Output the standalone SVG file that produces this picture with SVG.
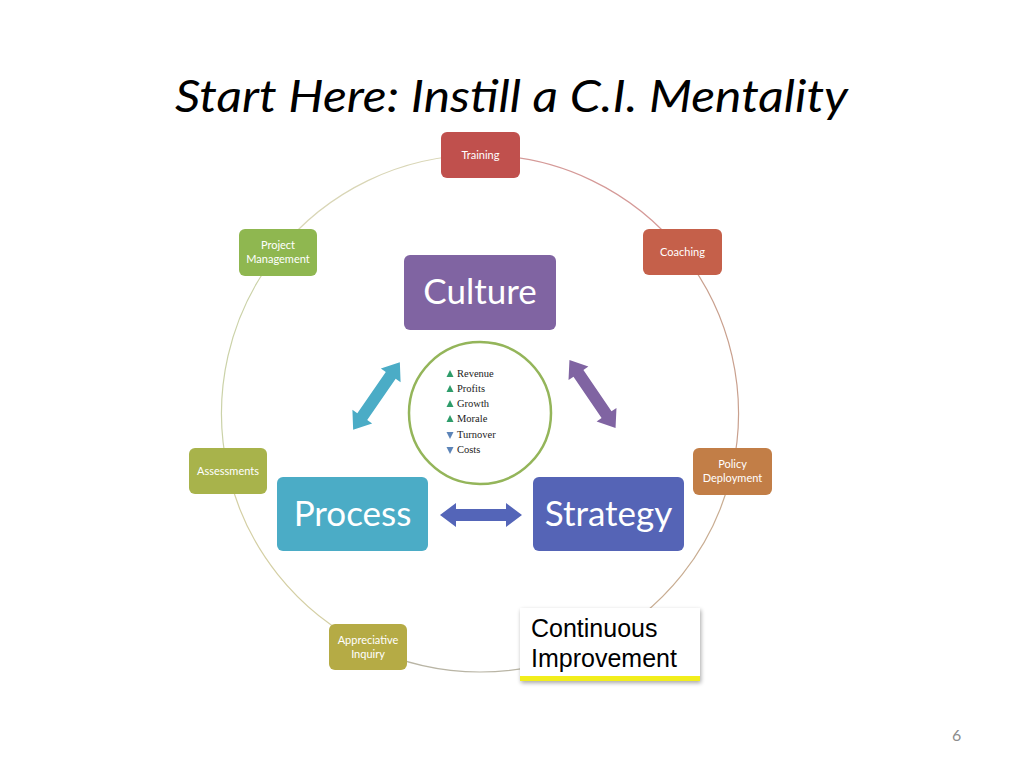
<svg xmlns="http://www.w3.org/2000/svg" width="1024" height="768" viewBox="0 0 1024 768">
<defs>
<style>
.box{stroke:none}
.nt{font-family:Lato,"Open Sans",sans-serif;font-size:11px;fill:#fff;text-anchor:middle}
.big{font-family:Lato,"Open Sans",sans-serif;font-size:35px;fill:#fff;text-anchor:middle}
.lst{font-family:"Liberation Serif",serif;font-size:10.5px;fill:#222}
.arc{fill:none;stroke-width:1.2}
.ci{font-family:"Liberation Sans",Arial,sans-serif;font-size:25px;fill:#000}
</style>
<polygon id="dbl" points="-41,0 -25,-12 -25,-6 25,-6 25,-12 41,0 25,12 25,6 -25,6 -25,12"/>
<filter id="sh" x="-10%" y="-10%" width="130%" height="140%">
<feGaussianBlur in="SourceAlpha" stdDeviation="2"/>
<feOffset dx="1" dy="2"/>
<feComponentTransfer><feFuncA type="linear" slope="0.35"/></feComponentTransfer>
<feMerge><feMergeNode/><feMergeNode in="SourceGraphic"/></feMerge>
</filter>
</defs>
<rect width="1024" height="768" fill="#fff"/>
<text x="175" y="112" font-family="Lato,'Open Sans',sans-serif" font-style="italic" font-size="44" fill="#000" textLength="673" lengthAdjust="spacingAndGlyphs">Start Here: Instill a C.I. Mentality</text>

<g id="connectors">
<path class="arc" stroke="#D59A98" d="M480,155 A258.5,258.5 0 0 1 682.1,252.3"/>
<path class="arc" stroke="#C9A08E" d="M682.1,252.3 A258.5,258.5 0 0 1 732,471"/>
<path class="arc" stroke="#C9AD92" d="M732,471 A258.5,258.5 0 0 1 592.2,646.4"/>
<path class="arc" stroke="#B9B5A5" d="M592.2,646.4 A258.5,258.5 0 0 1 367.8,646.4"/>
<path class="arc" stroke="#D4CFA4" d="M367.8,646.4 A258.5,258.5 0 0 1 228,471"/>
<path class="arc" stroke="#CBD2A8" d="M228,471 A258.5,258.5 0 0 1 277.9,252.3"/>
<path class="arc" stroke="#D9D6B6" d="M277.9,252.3 A258.5,258.5 0 0 1 480,155"/>
<use href="#dbl" fill="#4BACC6" transform="translate(376.5,396) rotate(-55.3)"/>
<use href="#dbl" fill="#8064A2" transform="translate(592.5,394) rotate(55.8)"/>
<use href="#dbl" fill="#5465B8" transform="translate(481,515)"/>
</g>

<g id="training"><rect class="box" x="441" y="132" width="79" height="46" rx="6" fill="#C0504D"/><text class="nt" x="480.5" y="159">Training</text></g>
<g id="coaching"><rect class="box" x="643" y="229" width="79" height="46" rx="6" fill="#C5604A"/><text class="nt" x="682.5" y="256">Coaching</text></g>
<g id="policy-deployment"><rect class="box" x="693" y="448" width="79" height="47" rx="6" fill="#C27E47"/><text class="nt" x="732.5" y="468">Policy</text><text class="nt" x="732.5" y="481.5">Deployment</text></g>
<g id="appreciative-inquiry"><rect class="box" x="329" y="624" width="78" height="46" rx="6" fill="#B5AB45"/><text class="nt" x="368" y="644">Appreciative</text><text class="nt" x="368" y="657.5">Inquiry</text></g>
<g id="assessments"><rect class="box" x="189" y="448" width="78" height="46" rx="6" fill="#A8B34B"/><text class="nt" x="228" y="475">Assessments</text></g>
<g id="project-management"><rect class="box" x="239" y="229" width="78" height="47" rx="6" fill="#8FB750"/><text class="nt" x="278" y="249">Project</text><text class="nt" x="278" y="262.5">Management</text></g>

<g id="culture"><rect class="box" x="404" y="255" width="152" height="75" rx="6" fill="#8064A2"/><text class="big" x="480" y="304">Culture</text></g>
<g id="process"><rect class="box" x="277" y="477" width="151" height="74" rx="6" fill="#4BACC6"/><text class="big" x="352.5" y="526">Process</text></g>
<g id="strategy"><rect class="box" x="533" y="477" width="151" height="74" rx="6" fill="#5564B6"/><text class="big" x="608.5" y="526">Strategy</text></g>

<g id="results">
<circle cx="480" cy="413" r="71" fill="#fff" stroke="#94B55A" stroke-width="2.5"/>
<g fill="#2E9C6A">
<polygon points="446.5,377 453.5,377 450,370"/>
<polygon points="446.5,392 453.5,392 450,385"/>
<polygon points="446.5,407 453.5,407 450,400"/>
<polygon points="446.5,422 453.5,422 450,415"/>
</g>
<g fill="#5C84B8">
<polygon points="446.5,432 453.5,432 450,439"/>
<polygon points="446.5,447 453.5,447 450,454"/>
</g>
<text class="lst" x="457" y="377">Revenue</text>
<text class="lst" x="457" y="392">Profits</text>
<text class="lst" x="457" y="407">Growth</text>
<text class="lst" x="457" y="422">Morale</text>
<text class="lst" x="457" y="438">Turnover</text>
<text class="lst" x="457" y="453">Costs</text>
</g>

<g id="continuous-improvement">
<rect x="520" y="608" width="180" height="73" fill="#fff" filter="url(#sh)"/>
<rect x="520" y="676" width="180" height="5" fill="#F2EE1C"/>
<text class="ci" x="531" y="637">Continuous</text>
<text class="ci" x="531" y="667">Improvement</text>
</g>

<text x="952" y="741" font-family="Lato,'Open Sans',sans-serif" font-size="16" fill="#8C8C8C">6</text>
</svg>
